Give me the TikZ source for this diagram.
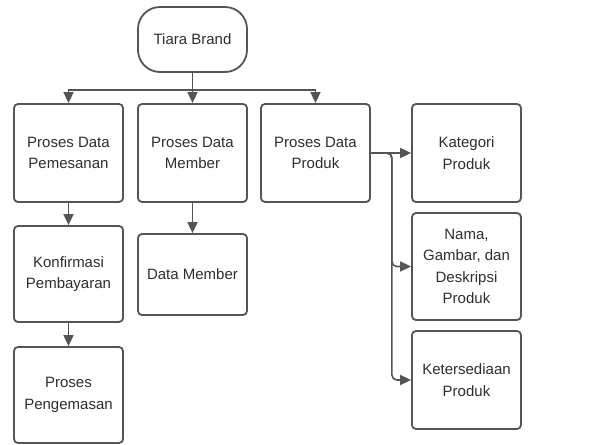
\documentclass[tikz,border=0pt]{standalone}
\usepackage{fontspec}
\setmainfont{Liberation Sans}
\usetikzlibrary{arrows.meta}
\definecolor{linegray}{HTML}{555555}
\definecolor{textgray}{HTML}{2E2E2E}
\begin{document}
\begin{tikzpicture}[x=1pt, y=1pt,
    box/.style={draw=linegray, line width=1.8pt, rounded corners=4pt, fill=white, text=textgray,
        minimum width=109pt, minimum height=98pt, align=center,
        font=\fontsize{15}{21.5}\selectfont},
    arr/.style={draw=linegray, line width=1.6pt, -{Triangle[length=11pt, width=10pt]}},
    link/.style={draw=linegray, line width=1.6pt}]
    \useasboundingbox (0,0) rectangle (615,-444);
    \node[box, rounded corners=22pt, minimum height=65pt] at (192.5,-39.5) (brand){Tiara Brand};
    \node[box] at ([xshift=-124pt, yshift=-113.5pt]brand.center) (pem){Proses Data\\Pemesanan};
    \node[box] at ([yshift=-113.5pt]brand.center) (mem){Proses Data\\Member};
    \node[box] at ([xshift=123pt]mem.center) (prod){Proses Data\\Produk};
    \node[box] at ([xshift=151pt]prod.center) (kat){Kategori\\Produk};
    \node[box, minimum height=107pt] at ([yshift=-113.5pt]kat.center) (nama){Nama,\\Gambar, dan\\Deskripsi\\Produk};
    \node[box] at ([yshift=-227pt]kat.center) (ket){Ketersediaan\\Produk};
    \node[box, minimum height=96pt] at ([yshift=-121pt]pem.center) (konf){Konfirmasi\\Pembayaran};
    \node[box, minimum height=96pt] at ([yshift=-242pt]pem.center) (peng){Proses\\Pengemasan};
    \node[box, minimum height=81pt] at ([yshift=-121.5pt]mem.center) (dm){Data Member};

    \coordinate (bus) at ([yshift=-17pt]brand.south);
    \coordinate (trunk) at ([xshift=21pt]prod.east);

    \draw[link](brand.south) -- (bus);
    \draw[arr](bus) -| (pem.north);
    \draw[arr](bus) -- (mem.north);
    \draw[arr](bus) -| (prod.north);
    \draw[arr](pem.south) -- (konf.north);
    \draw[arr](konf.south) -- (peng.north);
    \draw[arr](mem.south) -- (dm.north);
    \draw[arr](prod.east) -- (kat.west);
    \draw[arr, rounded corners=5pt](prod.east) -- (trunk) |- (nama.west);
    \draw[arr, rounded corners=5pt](prod.east) -- (trunk) |- (ket.west);
\end{tikzpicture}
\end{document}
